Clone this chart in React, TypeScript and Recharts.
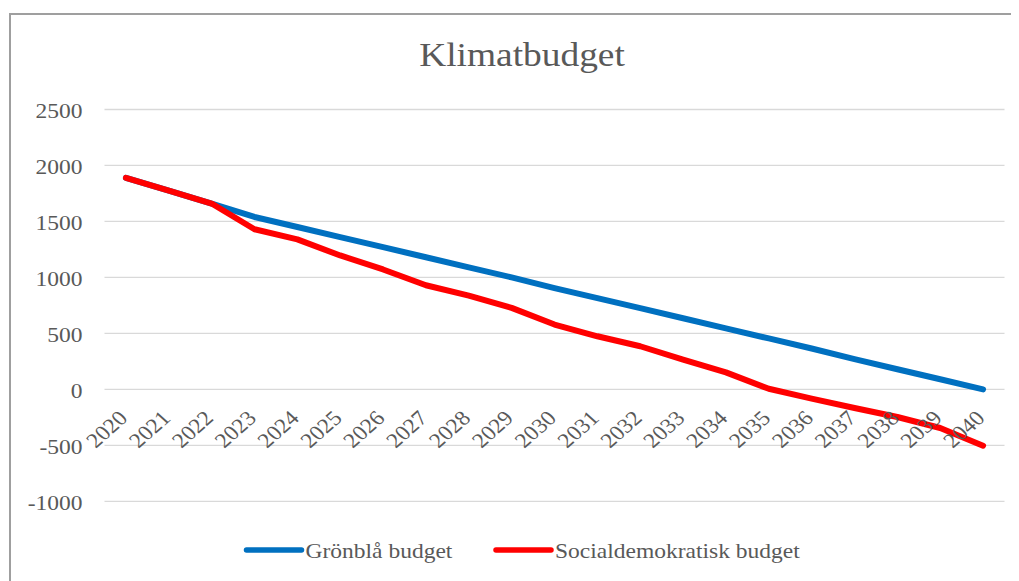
import React from 'react';
import { LineChart, Line, XAxis, YAxis, CartesianGrid, Legend } from 'recharts';

// Klimatbudget: remaining budget per year, two scenarios
const years = ['2020', '2021', '2022', '2023', '2024', '2025', '2026', '2027', '2028', '2029', '2030',
  '2031', '2032', '2033', '2034', '2035', '2036', '2037', '2038', '2039', '2040'];
const gronbla = [1890, 1775, 1660, 1540, 1450, 1360, 1270, 1180, 1090, 1000, 905,
  815, 725, 635, 545, 455, 365, 270, 180, 90, 0];
const socdem = [1890, 1775, 1660, 1430, 1340, 1196, 1071, 930, 838, 728, 579,
  474, 385, 266, 152, 5, -83, -167, -247, -345, -503];
const yTicks = [-1000, -500, 0, 500, 1000, 1500, 2000, 2500];

const data = years.map((year, i) => ({ year, gronbla: gronbla[i], socdem: socdem[i] }));

const FONT = '"Liberation Serif", "Times New Roman", serif';
const TEXT = '#595959';
const STRETCH = 1.12;
const W = 1011;
const H = 573;
const PLOT_H = 391.8;
const Y_MIN = -1000;
const Y_MAX = 2500;

const YTick = (props: any) => {
  const { x, y, payload } = props;
  return (
    <text transform={`translate(${x},${y}) scale(${STRETCH},1)`} textAnchor="end" dy="0.42em"
      fill={TEXT} fontSize={21} fontFamily={FONT}>
      {payload.value}
    </text>
  );
};

// labels sit under the zero line, like Excel's crossing axis
const XTick = (props: any) => {
  const { x, y, payload } = props;
  const zeroY = y - PLOT_H * (0 - Y_MIN) / (Y_MAX - Y_MIN);
  return (
    <text transform={`translate(${x + 3},${zeroY + 30}) scale(${STRETCH},1) rotate(-45)`} textAnchor="end"
      fill={TEXT} fontSize={21} fontFamily={FONT}>
      {payload.value}
    </text>
  );
};

const legendX = [238.5, 488];

const LegendContent = (props: any) => {
  const { payload } = props;
  return (
    <svg width={W} height={30} style={{ display: 'block' }}>
      {(payload || []).map((p: any, i: number) => (
        <g key={p.value}>
          <line x1={legendX[i]} x2={legendX[i] + 55} y1={15} y2={15} stroke={p.color}
            strokeWidth={5.5} strokeLinecap="round" />
          <text transform={`translate(${legendX[i] + 59},22.5) scale(${STRETCH},1)`} fill={TEXT}
            fontSize={21} fontFamily={FONT}>
            {p.value}
          </text>
        </g>
      ))}
    </svg>
  );
};

export default function App() {
  return (
    <div style={{ position: 'relative', width: W, height: H, overflow: 'hidden', background: '#fff' }}>
      <div style={{ position: 'absolute', top: 5, left: 1, right: -10, bottom: -10,
        borderTop: '2px solid #9f9f9f', borderLeft: '2px solid #9f9f9f' }} />
      <svg width={W} height={80} style={{ position: 'absolute', top: 0, left: 0 }}>
        <text transform="translate(514,58) scale(1.1,1)" textAnchor="middle" fill={TEXT}
          fontSize={34} fontFamily={FONT}>
          Klimatbudget
        </text>
      </svg>
      <LineChart width={W} height={H} data={data}
        margin={{ top: 101.5, right: 14.5, left: 0, bottom: 16 }}>
        <CartesianGrid vertical={false} stroke="#d9d9d9" strokeWidth={1.3} />
        <XAxis dataKey="year" height={33.7} axisLine={false} tickLine={false} tickSize={0} tickMargin={0}
          interval={0} padding={{ left: 21.43, right: 21.43 }} tick={<XTick />} />
        <YAxis width={96.5} domain={[Y_MIN, Y_MAX]} ticks={yTicks} axisLine={false} tickLine={false}
          tickSize={0} tickMargin={22} tick={<YTick />} />
        <Legend verticalAlign="bottom" wrapperStyle={{ left: 0, width: W }} content={<LegendContent />} />
        <Line dataKey="gronbla" name="Grönblå budget" stroke="#0070c0" strokeWidth={6} dot={false}
          strokeLinecap="round" strokeLinejoin="round" isAnimationActive={false} />
        <Line dataKey="socdem" name="Socialdemokratisk budget" stroke="#ff0000" strokeWidth={6} dot={false}
          strokeLinecap="round" strokeLinejoin="round" isAnimationActive={false} />
      </LineChart>
    </div>
  );
}
